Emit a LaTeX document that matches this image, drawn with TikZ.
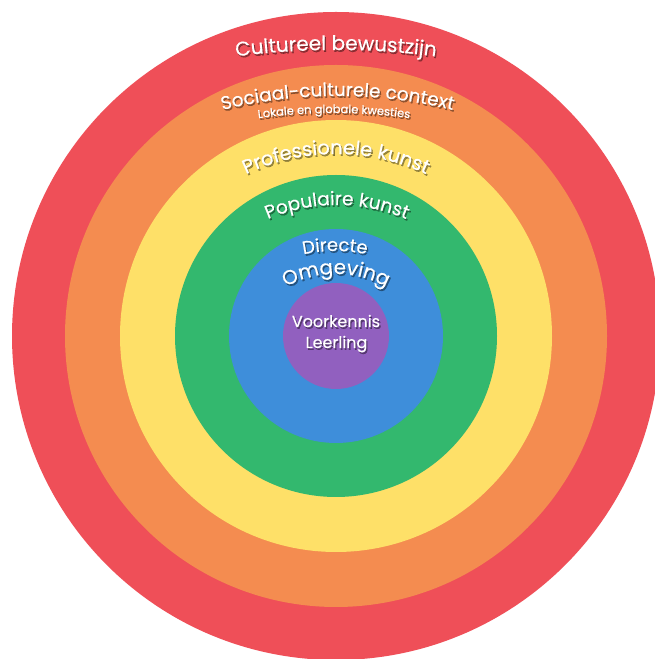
\documentclass[tikz,border=0pt]{standalone}
\usepackage{fontspec}
\setmainfont{Poppins}[FakeBold=0.3]
\usetikzlibrary{decorations.text}
\definecolor{ringred}{HTML}{EF4F58}
\definecolor{ringorange}{HTML}{F48C50}
\definecolor{ringyellow}{HTML}{FEE068}
\definecolor{ringgreen}{HTML}{33B86E}
\definecolor{ringblue}{HTML}{3E8EDA}
\definecolor{ringpurple}{HTML}{9160BF}
\newcommand\ringlabel[7]{%
  \pgfmathsetmacro\rlcy{659-#2-#3}%
  \pgfmathsetmacro\rlsa{90+#5}%
  \pgfmathsetmacro\rlea{90-#5}%
  \path[decorate,decoration={text along path,text align=center,
    text={|\fontsize{#4}{#4}\selectfont\color{#6}|#7}}]
    ([shift={(#1pt,\rlcy pt)}]\rlsa:#3pt) arc[start angle=\rlsa,end angle=\rlea,radius=#3pt];}
\newcommand\shadowlabel[6]{%
  \begin{scope}[opacity=.4,shift={(1.3pt,-1.8pt)}]\ringlabel{#1}{#2}{#3}{#4}{#5}{black}{#6}\end{scope}%
  \ringlabel{#1}{#2}{#3}{#4}{#5}{white}{#6}}
\tikzset{centertext/.style={anchor=base,text=white,font=\fontsize{16}{16}\selectfont,inner sep=0pt}}
\begin{document}
\begin{tikzpicture}[x=1pt,y=1pt]
\useasboundingbox (0,0) rectangle (655,659);
\clip (0,0) rectangle (655,659);
\fill[white] (0,0) rectangle (655,659);
\coordinate (c) at (336,323);
\fill[ringred]    (c) circle[radius=324pt];
\fill[ringorange] (c) circle[radius=271pt];
\fill[ringyellow] (c) circle[radius=216pt];
\fill[ringgreen]  (c) circle[radius=161pt];
\fill[ringblue]   (c) circle[radius=107pt];
\fill[ringpurple] (c) circle[radius=53pt];
\shadowlabel{336}{50}{770}{20}{12}{Cultureel bewustzijn}
\shadowlabel{337.5}{96}{480}{18.5}{21}{Sociaal-culturele context}
\shadowlabel{334}{113}{550}{11.5}{13}{Lokale en globale kwesties}
\shadowlabel{336}{154}{210}{19.5}{41}{Professionele kunst}
\shadowlabel{337}{205}{176}{18.6}{39}{Populaire kunst}
\shadowlabel{335}{251}{150}{18}{23}{Directe}
\shadowlabel{336}{274}{104}{20}{47}{Omgeving}
\node[centertext,text=black,opacity=.4] (vks) at (337.3,330.2) {Voorkennis};
\node[centertext] (vk) at (336,332) {Voorkennis};
\node[centertext,text=black,opacity=.4] (lls) at (337.8,309.2) {Leerling};
\node[centertext] (ll) at (336.5,311) {Leerling};
\end{tikzpicture}
\end{document}
